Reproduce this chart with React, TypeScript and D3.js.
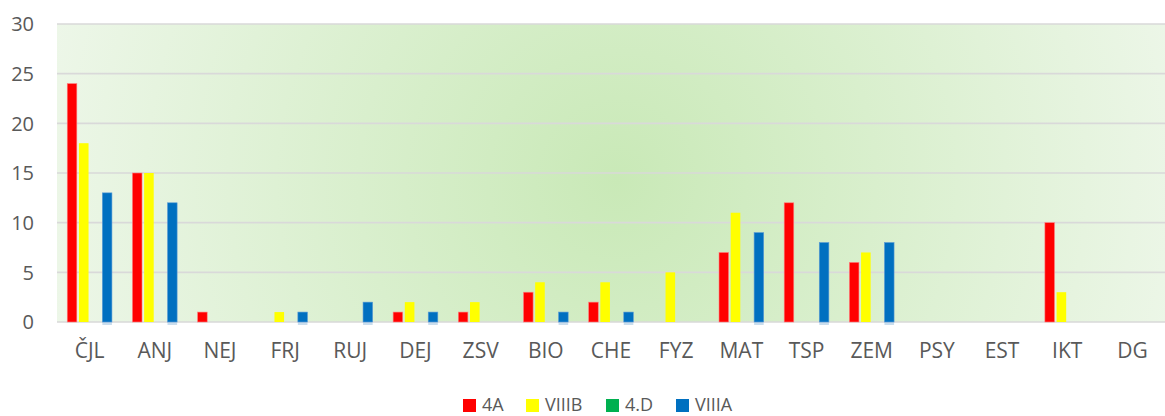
import React from "react";
import * as d3 from "d3";

const categories = ["ČJL", "ANJ", "NEJ", "FRJ", "RUJ", "DEJ", "ZSV", "BIO", "CHE", "FYZ", "MAT", "TSP", "ZEM", "PSY", "EST", "IKT", "DG"];
const seriesNames = ["4A", "VIIIB", "4.D", "VIIIA"];
const values4A = [24, 15, 1, 0, 0, 1, 1, 3, 2, 0, 7, 12, 6, 0, 0, 10, 0];
const valuesVIIIB = [18, 15, 0, 1, 0, 2, 2, 4, 4, 5, 11, 0, 7, 0, 0, 3, 0];
const values4D = [0, 0, 0, 0, 0, 0, 0, 0, 0, 0, 0, 0, 0, 0, 0, 0, 0];
const valuesVIIIA = [13, 12, 0, 1, 2, 1, 0, 1, 1, 0, 9, 8, 8, 0, 0, 0, 0];
const yTicks = [0, 5, 10, 15, 20, 25, 30];
const colors = ["#ff0000", "#ffff00", "#00b050", "#0070c0"];

const W = 1165;
const H = 416;
const left = 57;
const right = 1165;
const top = 24;
const bottom = 322;
const FONT = "'Open Sans', 'Noto Sans', sans-serif";
const TEXT = "#595959";

export default function App() {
  const seriesValues = [values4A, valuesVIIIB, values4D, valuesVIIIA];
  const x0 = d3.scaleBand<string>().domain(categories).range([left, right]).paddingInner(0.282).paddingOuter(0.141);
  const x1 = d3.scaleBand<string>().domain(seriesNames).range([0, x0.bandwidth()]).paddingInner(0.18).paddingOuter(0.09);
  const y = d3.scaleLinear().domain([0, 30]).range([bottom, top]);

  const legendX = [463, 526, 606, 676];

  return (
    <svg width={W} height={H} style={{ position: "absolute", left: 0, top: 0 }} fontFamily={FONT}>
      <defs>
        <radialGradient id="bg" gradientUnits="userSpaceOnUse" cx={617} cy={180} r={600}>
          <stop offset="0" stopColor="#c9e9b7" />
          <stop offset="1" stopColor="#eef7ea" />
        </radialGradient>
      </defs>
      <rect x={0} y={0} width={W} height={H} fill="#ffffff" />
      <rect x={left} y={top} width={right - left} height={bottom - top} fill="url(#bg)" />
      {yTicks.map((t) => (
        <g key={t}>
          <line x1={left} x2={right} y1={y(t)} y2={y(t)} stroke="#d9d9d9" strokeWidth={1.6} />
          <text x={34} y={y(t)} dy="0.36em" textAnchor="end" fontSize={20} fill={TEXT}>
            {t}
          </text>
        </g>
      ))}
      {categories.map((c, i) => (
        <g key={c}>
          {seriesNames.map((s, j) => {
            const v = seriesValues[j][i];
            if (!v) return null;
            const bx = (x0(c) as number) + (x1(s) as number);
            const bw = x1.bandwidth();
            return (
              <g key={s}>
                {j === 3 && <rect x={bx} y={bottom} width={bw} height={3} fill="#b4cfe6" opacity={0.7} />}
                <rect
                  x={bx}
                  y={y(v)}
                  width={bw}
                  height={bottom - y(v)}
                  fill={colors[j]}
                  stroke={j === 0 ? "#ff8080" : j === 3 ? "#5b9bd5" : "none"}
                  strokeWidth={j === 1 ? 0 : 0.6}
                />
              </g>
            );
          })}
          <text x={(x0(c) as number) + x0.bandwidth() / 2} y={358} textAnchor="middle" fontSize={21} fill={TEXT}>
            {c}
          </text>
        </g>
      ))}
      {seriesNames.map((s, j) => (
        <g key={s}>
          <rect x={legendX[j]} y={399} width={13} height={13} fill={colors[j]} />
          <text x={legendX[j] + 19} y={411} fontSize={18} fill={TEXT}>
            {s}
          </text>
        </g>
      ))}
    </svg>
  );
}
